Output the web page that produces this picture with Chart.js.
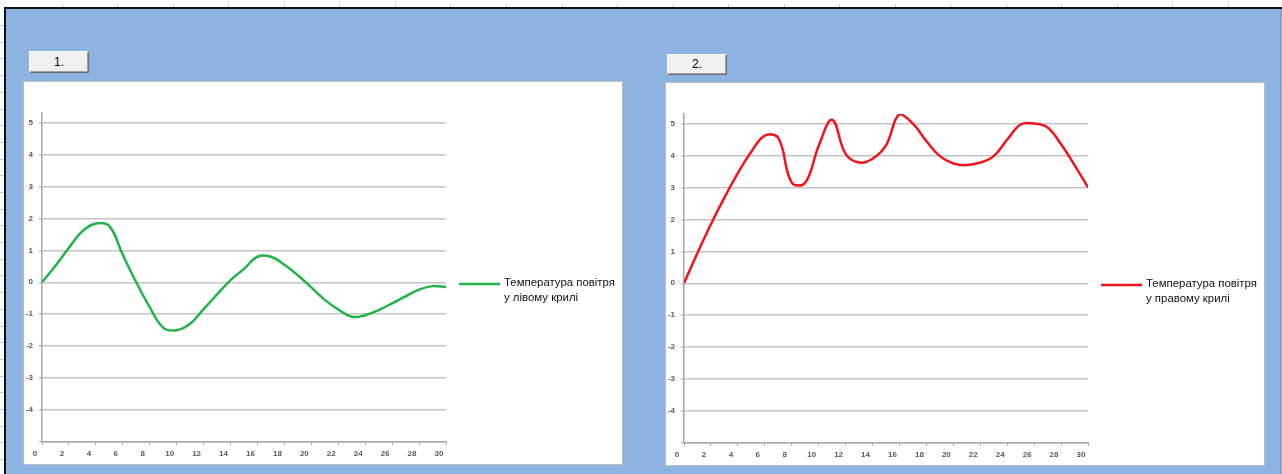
<!DOCTYPE html>
<html lang="uk">
<head>
<meta charset="utf-8">
<title>Температура повітря</title>
<script src="https://cdn.jsdelivr.net/npm/chart.js@4.4.1/dist/chart.umd.min.js"></script>
<style>
  html, body { margin: 0; padding: 0; }
  body {
    width: 1282px; height: 474px; position: relative; overflow: hidden;
    background: #ffffff; font-family: "Liberation Sans", Arial, sans-serif;
  }
  .sheet {
    position: absolute; left: 6px; top: 9px; right: 0; bottom: 0;
    background: #8DB3E2;
  }
  .edge-top { position: absolute; left: 4px; top: 7px; right: 0; height: 2px; background: #111; }
  .edge-left { position: absolute; left: 4px; top: 7px; width: 2px; bottom: 0; background: #111; }
  .edge-right { position: absolute; left: 1280px; top: 9px; width: 1px; bottom: 0; background: #7F98B8; }
  .rule-x { position: absolute; top: 4px; width: 1px; height: 3px; background: #C8C8C8; }
  .rule-y { position: absolute; left: 0; width: 4px; height: 1px; background: #C8C8C8; }
  .btn {
    position: absolute; box-sizing: border-box;
    background: #F0F0F0;
    border-top: 1px solid #FFFFFF; border-left: 1px solid #FFFFFF;
    border-right: 1px solid #6E6E6E; border-bottom: 1px solid #6E6E6E;
    box-shadow: inset -1px -1px 0 #A0A0A0;
    font: 12px "Liberation Sans", Arial, sans-serif; color: #000;
    text-align: center;
  }
  .panel {
    position: absolute; box-sizing: border-box;
    background: #FFFFFF; border: 1px solid #BDBDBD;
  }
  canvas { position: absolute; }
</style>
</head>
<body>
<div class="sheet"></div>
<div class="edge-top"></div>
<div class="edge-left"></div>
<div class="edge-right"></div>
<div id="rulers"></div>

<div class="btn" style="left:29px; top:51px; width:60px; height:22px; line-height:20px;">1.</div>
<div class="btn" style="left:667px; top:54px; width:60px; height:21px; line-height:19px;">2.</div>

<div class="panel" style="left:23px; top:81px; width:600px; height:384px;"></div>
<div class="panel" style="left:665px; top:82px; width:600px; height:384px;"></div>

<canvas id="leftWing" width="598" height="382" style="left:24px; top:82px;"></canvas>
<canvas id="rightWing" width="598" height="382" style="left:666px; top:83px;"></canvas>

<script>
// Days of observation and the measured air temperature (°C)
const days = [0, 1, 2, 3, 4, 5, 6, 7, 8, 9, 10, 11, 12, 13, 14, 15,
              16, 17, 18, 19, 20, 21, 22, 23, 24, 25, 26, 27, 28, 29, 30];

const leftWingTemp = [0, 0.52, 1.08, 1.6, 1.84, 1.76, 0.86, 0.0, -0.78, -1.42,
                      -1.5, -1.3, -0.84, -0.38, 0.07, 0.42, 0.8, 0.8, 0.55, 0.22,
                      -0.16, -0.55, -0.85, -1.08, -1.03, -0.87, -0.66, -0.44, -0.23, -0.12,
                      -0.15];

const rightWingTemp = [0, 0.95, 1.85, 2.68, 3.45, 4.12, 4.62, 4.55, 3.15, 3.15,
                       4.3, 5.12, 4.05, 3.78, 3.9, 4.32, 5.3, 5.0, 4.45, 3.98,
                       3.75, 3.7, 3.78, 3.98, 4.5, 4.97, 5.0, 4.88, 4.35, 3.7,
                       3.0];

const leftLabel = ["Температура повітря", "у лівому крилі"];
const rightLabel = ["Температура повітря", "у правому крилі"];

// Axis tick values
const xTicks = [0, 2, 4, 6, 8, 10, 12, 14, 16, 18, 20, 22, 24, 26, 28, 30];
const yTicks = [-5, -4, -3, -2, -1, 0, 1, 2, 3, 4, 5];

// Faint worksheet ruler marks along the top and left edges
(function drawRulers() {
  const host = document.getElementById('rulers');
  for (let x = 61.7; x < 1282; x += 55.54) {
    const d = document.createElement('div');
    d.className = 'rule-x';
    d.style.left = Math.round(x) + 'px';
    host.appendChild(d);
  }
  for (let y = 25; y < 474; y += 16.7) {
    const d = document.createElement('div');
    d.className = 'rule-y';
    d.style.top = Math.round(y) + 'px';
    host.appendChild(d);
  }
})();

// Two-line legend entry drawn to the right of the plot area
const sideLegend = {
  id: 'sideLegend',
  afterDraw(chart, args, opts) {
    const ctx = chart.ctx;
    const area = chart.chartArea;
    const ds = chart.data.datasets[0];
    const lines = opts.lines;
    const y0 = opts.y;
    ctx.save();
    ctx.strokeStyle = ds.borderColor;
    ctx.lineWidth = 2.5;
    ctx.beginPath();
    ctx.moveTo(area.right + 13, y0 + 1);
    ctx.lineTo(area.right + 54, y0 + 1);
    ctx.stroke();

    // pick a font size that gives the first line its intended width
    let size = 11;
    ctx.font = size + 'px "Liberation Sans", Arial, sans-serif';
    const w = ctx.measureText(lines[0]).width;
    size = Math.max(9, Math.min(13, size * opts.width / w));
    ctx.font = size.toFixed(2) + 'px "Liberation Sans", Arial, sans-serif';
    ctx.fillStyle = '#111111';
    ctx.textBaseline = 'middle';
    ctx.textAlign = 'left';
    lines.forEach((t, i) => ctx.fillText(t, area.right + 58, y0 + i * 14.5));
    ctx.restore();
  }
};

function wingChart(canvasId, values, color, label, legendY) {
  const tickFont = { family: '"Liberation Sans", Arial, sans-serif', size: 8, weight: 'bold' };
  return new Chart(document.getElementById(canvasId), {
    type: 'line',
    data: {
      datasets: [{
        label: label.join(' '),
        data: days.map((d, i) => ({ x: d, y: values[i] })),
        borderColor: color,
        backgroundColor: color,
        borderWidth: 2.5,
        pointRadius: 0,
        tension: 0.4,
        fill: false
      }]
    },
    options: {
      responsive: false,
      animation: false,
      events: [],
      layout: { padding: { top: 31, right: 176, left: 0, bottom: 0 } },
      plugins: {
        legend: { display: false },
        tooltip: { enabled: false },
        sideLegend: { lines: label, y: legendY, width: 111 }
      },
      scales: {
        x: {
          type: 'linear',
          min: 0, max: 30,
          afterBuildTicks(scale) { scale.ticks = xTicks.map(v => ({ value: v })); },
          afterFit(scale) { scale.height = 22; },
          ticks: {
            autoSkip: false, maxRotation: 0,
            labelOffset: -7, padding: 4,
            color: '#595959', font: tickFont
          },
          grid: { drawOnChartArea: false, drawTicks: true, tickLength: 3, color: '#A8A8A8', lineWidth: 1 },
          border: { color: '#A8A8A8', width: 1.5 }
        },
        y: {
          min: -5, max: 5.3,
          afterBuildTicks(scale) { scale.ticks = yTicks.map(v => ({ value: v })); },
          afterFit(scale) { scale.width = 18; },
          ticks: {
            padding: 6,
            color: '#595959', font: tickFont,
            callback: v => (v === yTicks[0] ? '' : String(v))
          },
          grid: { color: '#C4C4C4', lineWidth: 1.5, tickLength: 3, drawTicks: true },
          border: { color: '#A8A8A8', width: 1.5 }
        }
      }
    },
    plugins: [sideLegend]
  });
}

wingChart('leftWing', leftWingTemp, '#22B24A', leftLabel, 201);
wingChart('rightWing', rightWingTemp, '#F0141E', rightLabel, 201);
</script>
</body>
</html>
